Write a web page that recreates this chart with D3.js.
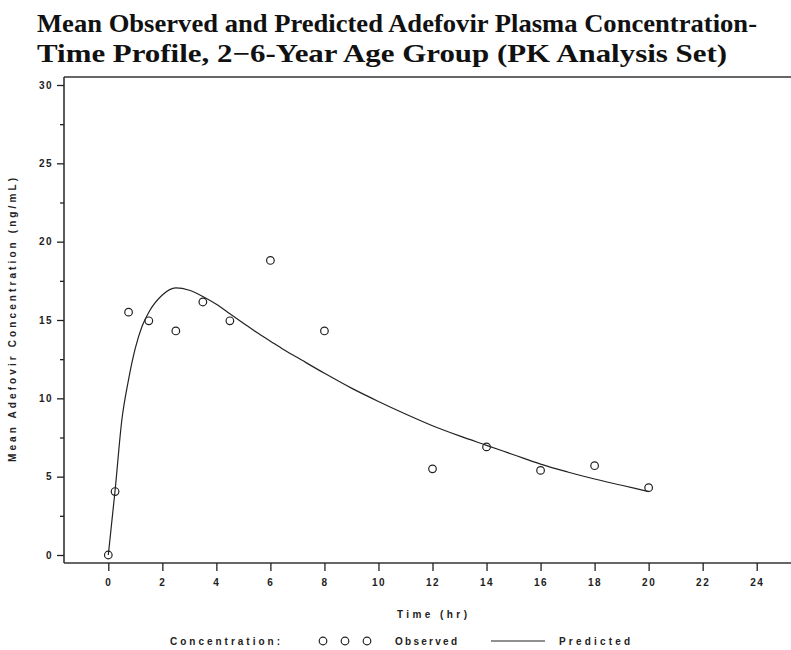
<!DOCTYPE html>
<html>
  <head>
    <meta http-equiv="Content-Type" content="text/html;charset=utf-8">
    <title>Adefovir concentration-time profile</title>
    <script type="text/javascript" src="https://d3js.org/d3.v7.min.js"></script>
    <style>
      html, body {
        margin: 0;
        padding: 0;
        background: #fff;
      }
      .title {
        font-family: "Liberation Serif", serif;
        font-weight: bold;
        font-size: 25px;
        fill: #111;
      }
      .lbl, .axis text {
        font-family: "Liberation Sans", Arial, sans-serif;
        font-weight: bold;
        font-size: 10px;
        fill: #222;
      }
      .axis path { display: none; }
      .axis line { stroke: #222; stroke-width: 1.3px; }
      .frame { stroke: #333; stroke-width: 1.6px; }
      path.line {
        fill: none;
        stroke: #222;
        stroke-width: 1.2px;
      }
      circle.obs {
        fill: none;
        stroke: #222;
        stroke-width: 1.2px;
      }
    </style>
  </head>
  <body>
  <script type="text/javascript">

// observed means (hr, ng/mL)
var obsTime = [0, 0.25, 0.75, 1.5, 2.5, 3.5, 4.5, 6, 8, 12, 14, 16, 18, 20];
var obsConc = [0, 4.05, 15.5, 14.95, 14.3, 16.15, 14.95, 18.8, 14.3, 5.5, 6.9, 5.4, 5.7, 4.3];

// predicted curve
var predTime = [0, 0.25, 0.5, 0.75, 1, 1.25, 1.5, 2, 2.5, 3, 3.5, 4, 4.5, 5, 5.5, 6, 6.5, 7, 8, 9, 10, 11, 12, 13, 14, 15, 16, 17, 18, 19, 20];
var predConc = [0, 4.1, 8.6, 11.2, 13.2, 14.6, 15.5, 16.6, 17.05, 16.9, 16.5, 16.0, 15.4, 14.8, 14.2, 13.65, 13.1, 12.6, 11.6, 10.65, 9.8, 9.0, 8.25, 7.6, 7.0, 6.4, 5.8, 5.3, 4.85, 4.45, 4.05];

var xTicks = [0, 2, 4, 6, 8, 10, 12, 14, 16, 18, 20, 22, 24];
var yTicks = [0, 5, 10, 15, 20, 25, 30];
var yMinor = [2.5, 7.5, 12.5, 17.5, 22.5, 27.5];

var titleLines = ["Mean Observed and Predicted Adefovir Plasma Concentration-",
                  "Time Profile, 2\u22126-Year Age Group (PK Analysis Set)"];

var W = 791, H = 650;
var pLeft = 64, pRight = 791, pTop = 77, pBottom = 563;

var x = d3.scaleLinear().domain([0, 24]).range([108.3, 756.7]);
var y = d3.scaleLinear().domain([0, 30]).range([555, 85]);

var svg = d3.select("body").append("svg").attr("width", W).attr("height", H);

// title
svg.selectAll("text.title").data(titleLines).enter().append("text")
    .attr("class", "title")
    .attr("x", 37)
    .attr("y", function(d, i) { return 32 + i * 30; })
    .attr("textLength", function(d, i) { return i == 0 ? 720 : 690; })
    .attr("lengthAdjust", "spacingAndGlyphs")
    .text(function(d) { return d; });

// frame lines
svg.append("line").attr("class", "frame").attr("x1", pLeft).attr("x2", pRight).attr("y1", pTop).attr("y2", pTop);
svg.append("line").attr("class", "frame").attr("x1", pLeft).attr("x2", pRight).attr("y1", pBottom).attr("y2", pBottom);
svg.append("line").attr("class", "frame").attr("x1", pLeft).attr("x2", pLeft).attr("y1", pTop).attr("y2", pBottom);

// axes
svg.append("g").attr("class", "axis y")
    .attr("transform", "translate(" + pLeft + ",0)")
    .call(d3.axisLeft(y).tickValues(yTicks).tickSize(7).tickPadding(4));

svg.append("g").attr("class", "axis y minor")
    .attr("transform", "translate(" + pLeft + ",0)")
    .call(d3.axisLeft(y).tickValues(yMinor).tickSize(4).tickFormat(""));

svg.append("g").attr("class", "axis x")
    .attr("transform", "translate(0," + pBottom + ")")
    .call(d3.axisBottom(x).tickValues(xTicks).tickSize(8).tickPadding(8));

svg.selectAll(".axis text").style("letter-spacing", "1.5px");

// axis titles
svg.append("text").attr("class", "lbl")
    .attr("transform", "translate(16," + ((pTop + pBottom) / 2) + ") rotate(-90)")
    .attr("text-anchor", "middle")
    .attr("textLength", 284)
    .attr("lengthAdjust", "spacing")
    .text("Mean Adefovir Concentration (ng/mL)");

svg.append("text").attr("class", "lbl")
    .attr("x", 397).attr("y", 618)
    .attr("textLength", 70)
    .attr("lengthAdjust", "spacing")
    .text("Time (hr)");

// predicted line
var pred = predTime.map(function(t, i) { return { t: t, c: predConc[i] }; });
var line = d3.line()
    .x(function(d) { return x(d.t); })
    .y(function(d) { return y(d.c); })
    .curve(d3.curveMonotoneX);

svg.append("path").attr("class", "line").attr("d", line(pred));

// observed points
svg.selectAll("circle.obs").data(obsTime).enter().append("circle")
    .attr("class", "obs")
    .attr("cx", function(d) { return x(d); })
    .attr("cy", function(d, i) { return y(obsConc[i]); })
    .attr("r", 3.8);

// legend
var ly = 641;
svg.append("text").attr("class", "lbl")
    .attr("x", 170).attr("y", ly + 4)
    .attr("textLength", 110).attr("lengthAdjust", "spacing")
    .text("Concentration:");

svg.selectAll("circle.leg").data([323, 345, 367]).enter().append("circle")
    .attr("class", "obs leg")
    .attr("cx", function(d) { return d; })
    .attr("cy", ly)
    .attr("r", 3.8);

svg.append("text").attr("class", "lbl")
    .attr("x", 395).attr("y", ly + 4)
    .attr("textLength", 62).attr("lengthAdjust", "spacing")
    .text("Observed");

svg.append("line").attr("x1", 491).attr("x2", 545).attr("y1", ly).attr("y2", ly)
    .attr("stroke", "#222").attr("stroke-width", 1.2);

svg.append("text").attr("class", "lbl")
    .attr("x", 559).attr("y", ly + 4)
    .attr("textLength", 71).attr("lengthAdjust", "spacing")
    .text("Predicted");

  </script>
  </body>
</html>
